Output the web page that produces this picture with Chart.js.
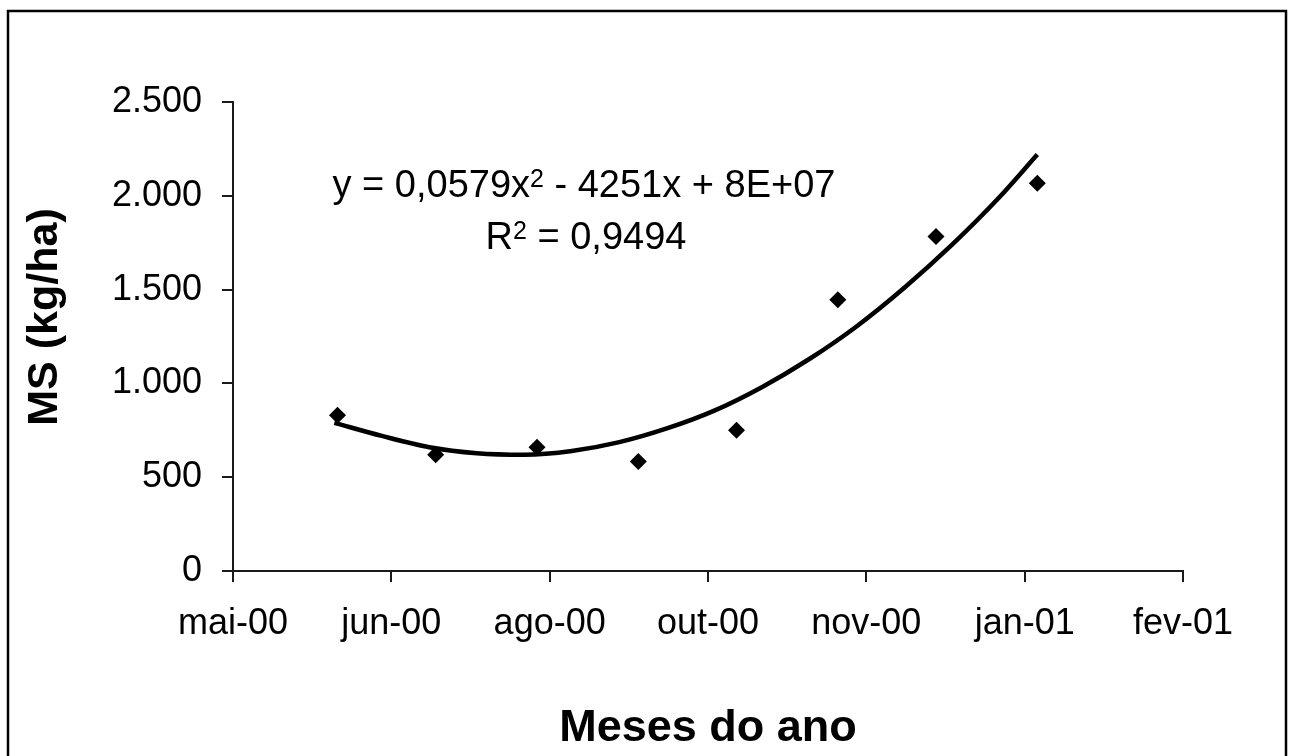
<!DOCTYPE html>
<html><head><meta charset="utf-8">
<script src="https://cdn.jsdelivr.net/npm/chart.js@4.4.1/dist/chart.umd.min.js"></script>
<style>html,body{margin:0;padding:0;background:#fff;} canvas{display:block;}</style>
</head><body>
<canvas id="c" width="1290" height="756"></canvas>
<script>
// Sampling dates (Excel serial day numbers) and dry matter (kg/ha)
const sampleDates = [36683, 36714, 36746, 36778, 36809, 36841, 36872, 36904];
const msValues    = [830, 620, 660, 584, 750, 1446, 1783, 2067];

// Polynomial trendline, values
const trendDates  = [36682, 36697, 36712, 36727, 36742, 36757, 36772, 36787, 36802, 36817, 36832, 36847, 36862, 36877, 36892, 36904];
const trendValues = [790, 720, 660, 628, 620, 640, 687, 760, 855, 980, 1130, 1305, 1510, 1738, 1992, 2220];

// Axis ticks
const xTickValues = [36650, 36700, 36750, 36800, 36850, 36900, 36950];
const xTickLabels = ['mai-00', 'jun-00', 'ago-00', 'out-00', 'nov-00', 'jan-01', 'fev-01'];
const yTickValues = [0, 500, 1000, 1500, 2000, 2500];
const yTickLabels = ['0', '500', '1.000', '1.500', '2.000', '2.500'];

const xTitle = 'Meses do ano';
const yTitle = 'MS (kg/ha)';
const eqParts = [['y = 0,0579x', false], ['2', true], [' - 4251x + 8E+07', false]];
const r2Parts = [['R', false], ['2', true], [' = 0,9494', false]];

const FONT = "'Liberation Sans', Arial, Helvetica, sans-serif";
const AXIS = '#1a1a1a';

function drawSupLine(ctx, parts, cx, baseline) {
  const main = `38px ${FONT}`, sup = `25px ${FONT}`;
  let total = 0;
  const widths = parts.map(([t, s]) => { ctx.font = s ? sup : main; const w = ctx.measureText(t).width; total += w; return w; });
  let x = cx - total / 2;
  ctx.fillStyle = '#000';
  ctx.textAlign = 'left';
  ctx.textBaseline = 'alphabetic';
  parts.forEach(([t, s], i) => {
    ctx.font = s ? sup : main;
    ctx.fillText(t, x, s ? baseline - 10 : baseline);
    x += widths[i];
  });
}

const decorPlugin = {
  id: 'decor',
  beforeDraw(chart) {
    const {ctx, width, height} = chart;
    ctx.save();
    ctx.fillStyle = '#fff';
    ctx.fillRect(0, 0, width, height);
    ctx.strokeStyle = '#000';
    ctx.lineWidth = 2.5;
    ctx.strokeRect(8, 11, 1278, height + 20);
    ctx.restore();
  },
  afterDraw(chart) {
    const {ctx} = chart;
    ctx.save();
    ctx.translate(57, 317);
    ctx.rotate(-Math.PI / 2);
    ctx.font = `bold 43px ${FONT}`;
    ctx.fillStyle = '#000';
    ctx.textAlign = 'center';
    ctx.textBaseline = 'alphabetic';
    ctx.fillText(yTitle, 0, 0);
    ctx.restore();
    ctx.save();
    drawSupLine(ctx, eqParts, 584, 197);
    drawSupLine(ctx, r2Parts, 586, 249);
    ctx.restore();
  }
};

new Chart(document.getElementById('c'), {
  type: 'scatter',
  data: {
    datasets: [
      {
        label: 'Tendência',
        data: trendDates.map((d, i) => ({x: d, y: trendValues[i]})),
        showLine: true,
        borderColor: '#000',
        borderWidth: 4.5,
        pointRadius: 0,
        cubicInterpolationMode: 'monotone',
        fill: false,
        order: 2
      },
      {
        label: 'MS',
        data: sampleDates.map((d, i) => ({x: d, y: msValues[i]})),
        pointStyle: 'rectRot',
        pointRadius: 8.5,
        pointBackgroundColor: '#000',
        pointBorderWidth: 0,
        showLine: false,
        order: 1
      }
    ]
  },
  options: {
    responsive: false,
    animation: false,
    devicePixelRatio: 1,
    layout: {padding: {left: 0, top: 102, right: 107, bottom: 0}},
    plugins: {legend: {display: false}, tooltip: {enabled: false}},
    scales: {
      x: {
        type: 'linear',
        min: 36650, max: 36950,
        afterBuildTicks: s => { s.ticks = xTickValues.map(v => ({value: v})); },
        afterFit: s => { s.height = 185; },
        grid: {display: true, drawOnChartArea: false, drawTicks: true, tickLength: 11, color: AXIS, lineWidth: 2},
        border: {display: true, color: AXIS, width: 2},
        ticks: {
          color: '#000', padding: 20, maxRotation: 0, autoSkip: false,
          font: {family: FONT, size: 36},
          callback: v => xTickLabels[xTickValues.indexOf(v)]
        },
        title: {display: true, text: xTitle, color: '#000', font: {family: FONT, size: 45, weight: 'bold'}, padding: {top: 0, bottom: 0}}
      },
      y: {
        type: 'linear',
        min: 0, max: 2500,
        afterBuildTicks: s => { s.ticks = yTickValues.map(v => ({value: v})); },
        afterFit: s => { s.width = 233; },
        grid: {display: true, drawOnChartArea: false, drawTicks: true, tickLength: 11, color: AXIS, lineWidth: 2},
        border: {display: true, color: AXIS, width: 2},
        ticks: {
          color: '#000', padding: 20,
          font: {family: FONT, size: 36},
          callback: v => yTickLabels[yTickValues.indexOf(v)]
        },
        title: {display: false}
      }
    }
  },
  plugins: [decorPlugin]
});
</script>
</body></html>
